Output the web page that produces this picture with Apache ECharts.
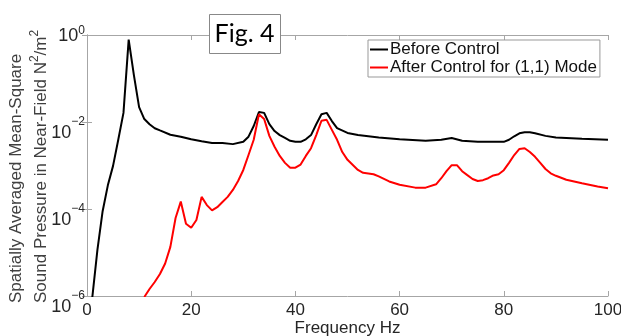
<!DOCTYPE html>
<html><head><meta charset="utf-8">
<script src="https://cdn.jsdelivr.net/npm/echarts@6/dist/echarts.min.js"></script>
<style>html,body{margin:0;background:#fff}#c{width:621px;height:336px}</style>
</head><body><div id="c"></div>
<script>
// Frequency (Hz) and mean-square sound pressure (N^2/m^2)
const freqBefore = [1,2,3,4,5,6,7,8,9,10,11,12,13,14,16,18,20,22,24,26,28,30,31,32,33,34,35,36,37,38,39,40,41,42,43,44,45,46,47,48,50,52,54,56,60,65,68,70,72,75,80,81,82,83,84,85,86,88,90,95,100];
const before = [8.9e-7,1.15e-5,8.9e-5,3.5e-4,9.8e-4,3.9e-3,0.0162,0.78,0.12,0.022,0.0117,0.0089,0.0072,0.0064,0.0051,0.0046,0.0040,0.0036,0.0033,0.0033,0.0031,0.0035,0.0046,0.0081,0.017,0.0162,0.0089,0.0062,0.0050,0.0043,0.0037,0.0035,0.0035,0.0040,0.0050,0.0089,0.0151,0.0162,0.0105,0.0072,0.0056,0.0050,0.0047,0.0044,0.0040,0.0037,0.0039,0.0043,0.0037,0.0035,0.0035,0.0039,0.0047,0.0055,0.0058,0.0058,0.0055,0.0048,0.0044,0.0041,0.0039];
const freqAfter = [11,12,13,14,15,16,17,18,19,20,21,22,23,24,25,26,27,28,29,30,31,32,33,34,35,36,37,38,39,40,41,42,43,44,45,46,47,48,49,50,52,53,55,56,58,60,63,65,67,68,69,70,71,72,73,74,75,76,77,78,79,80,81,82,83,84,85,86,87,88,89,90,92,95,98,100];
const after = [9.5e-7,1.45e-6,2.1e-6,3.2e-6,5.6e-6,1.35e-5,6.2e-5,1.48e-4,4.6e-5,3.7e-5,5.6e-5,1.9e-4,1.23e-4,9.3e-5,1.1e-4,1.45e-4,1.9e-4,2.75e-4,4.4e-4,7.9e-4,1.74e-3,3.9e-3,0.0151,0.0117,0.0048,0.0027,0.00166,0.00115,8.9e-4,8.9e-4,1.05e-3,1.66e-3,2.5e-3,5.0e-3,0.0107,0.0112,0.0066,0.0039,0.00204,0.00135,7.9e-4,6.8e-4,6.3e-4,5.6e-4,4.3e-4,3.6e-4,3.1e-4,3.1e-4,3.7e-4,5.1e-4,7.4e-4,1.02e-3,1.02e-3,7.4e-4,6.0e-4,4.9e-4,4.4e-4,4.6e-4,5.1e-4,5.9e-4,6.3e-4,7.8e-4,1.15e-3,1.74e-3,2.4e-3,2.5e-3,2.04e-3,1.58e-3,1.15e-3,8.3e-4,6.6e-4,5.8e-4,4.7e-4,3.9e-4,3.3e-4,3.0e-4];
const seriesNames = ['Before Control', 'After Control for (1,1) Mode'];
const xTickLabels = ['0','20','40','60','80','100'];
const yTickLabels = {'-6':'−6','-4':'−4','-2':'−2','0':'0'};

const chart = echarts.init(document.getElementById('c'), null, {renderer:'canvas'});
const axisGray = '#a6a6a6';
const txt = '#262626';
const tickFont = 'Liberation Sans, Arial, sans-serif';
const xAxisCommon = {type:'value', min:0, max:100, interval:20, axisLine:{show:true,lineStyle:{color:axisGray}}, axisTick:{show:true,inside:true,length:5,lineStyle:{color:axisGray}}, splitLine:{show:false}};
const yAxisCommon = {type:'log', logBase:10, min:1e-6, max:1, interval:2, axisLine:{show:true,lineStyle:{color:axisGray}}, axisTick:{show:true,inside:true,length:5,lineStyle:{color:axisGray}}, splitLine:{show:false}, minorTick:{show:false}};

chart.setOption({
  animation:false,
  backgroundColor:'#fff',
  grid:{left:87, right:13, top:35, bottom:40, containLabel:false, outerBoundsMode:'none'},
  xAxis:[
    Object.assign({}, xAxisCommon, {position:'bottom',
      axisLabel:{margin:6, color:txt, fontSize:17, fontFamily:tickFont, formatter:(v)=>xTickLabels[Math.round(v/20)]},
      name:'Frequency Hz', nameLocation:'middle', nameGap:24, nameMoveOverlap:false,
      nameTextStyle:{color:txt, fontSize:17, fontFamily:tickFont, verticalAlign:'top'}}),
    Object.assign({}, xAxisCommon, {position:'top', axisLabel:{show:false}})
  ],
  yAxis:[
    Object.assign({}, yAxisCommon, {position:'left',
      axisLabel:{margin:2, color:txt, fontFamily:tickFont, padding:[6,0,0,0],
        formatter:(v)=>{const e=Math.round(Math.log10(v)); return e===0 ? '{t|10}{u|0}' : '{b|10}{s|'+yTickLabels[String(e)]+'}';},
        rich:{b:{fontSize:18, fontFamily:tickFont, color:txt, padding:[16,0,0,0]}, s:{fontSize:12, fontFamily:tickFont, color:txt, padding:[0,0,6,0]},
              t:{fontSize:18, fontFamily:tickFont, color:txt, padding:[0,0,4,0]}, u:{fontSize:12, fontFamily:tickFont, color:txt, padding:[0,0,14,0]}}}}),
    Object.assign({}, yAxisCommon, {position:'right', axisLabel:{show:false}})
  ],
  legend:{
    orient:'vertical', left:368, top:40, itemGap:1, itemWidth:18, itemHeight:2, icon:'rect',
    padding:[1,3,1,2], borderColor:'#999', borderWidth:1, backgroundColor:'#fff',
    textStyle:{fontSize:17, color:'#111', fontFamily:tickFont, padding:[0,0,0,-3]},
    data:seriesNames
  },
  graphic:[
    {type:'rect', left:209, top:14, shape:{width:71, height:39}, style:{fill:'#fff', stroke:'#888', lineWidth:1}, z:100},
    {type:'text', x:244.5, y:34, style:{text:'Fig. 4', font:'25px Lato, "Open Sans", sans-serif', fill:'#000', align:'center', verticalAlign:'middle'}, z:101},
    {type:'text', x:28.5, y:303, rotation:Math.PI/2,
      style:{text:'{a|Spatially Averaged Mean-Square}\n{a|Sound Pressure in Near-Field N}{s|2}{a|/m}{s|2}',
        align:'left', verticalAlign:'middle', lineHeight:25,
        rich:{a:{fontSize:17, fontFamily:tickFont, fill:'#404040', lineHeight:25}, s:{fontSize:12, fontFamily:tickFont, fill:'#404040', padding:[0,0,12,0], lineHeight:25}}}}
  ],
  series:[
    {name:seriesNames[0], type:'line', xAxisIndex:0, yAxisIndex:0, showSymbol:false, symbol:'none', clip:true,
      lineStyle:{color:'#000', width:2}, itemStyle:{color:'#000'},
      data:freqBefore.map((f,i)=>[f, before[i]])},
    {name:seriesNames[1], type:'line', xAxisIndex:0, yAxisIndex:0, showSymbol:false, symbol:'none', clip:true,
      lineStyle:{color:'#ff0000', width:2}, itemStyle:{color:'#ff0000'},
      data:freqAfter.map((f,i)=>[f, after[i]])}
  ]
});
</script>
</body></html>
